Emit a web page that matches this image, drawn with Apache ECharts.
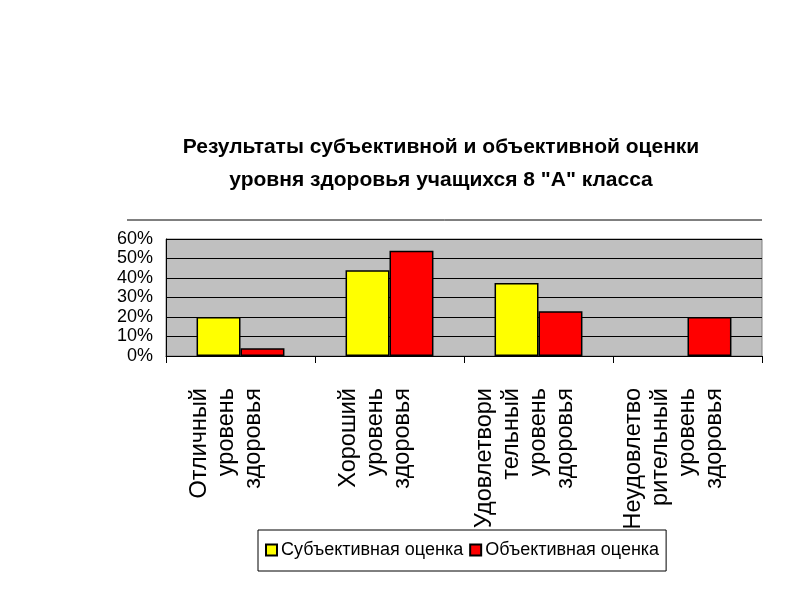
<!DOCTYPE html>
<html>
<head>
<meta charset="utf-8">
<script src="https://cdn.jsdelivr.net/npm/echarts@6/dist/echarts.min.js"></script>
<style>
  html, body { margin: 0; padding: 0; background: #fff; }
  #chart { width: 800px; height: 600px; }
</style>
</head>
<body>
<div id="chart"></div>
<script>
const categories = [
  'Отличный\nуровень\nздоровья',
  'Хороший\nуровень\nздоровья',
  'Удовлетвори\nтельный\nуровень\nздоровья',
  'Неудовлетво\nрительный\nуровень\nздоровья',
]
const subjective = [20, 44, 37.5, 0]
const objective = [4, 54, 23, 20]
const seriesNames = ['Субъективная оценка', 'Объективная оценка']

const narrow = '"Liberation Sans Narrow", "Arial Narrow", "Liberation Sans", sans-serif'
const regular = '"Liberation Sans", Arial, sans-serif'

// a zero share is not drawn as a bar
const toBars = arr => arr.map(v => (v === 0 ? '-' : v))

const chart = echarts.init(document.getElementById('chart'))

const option = {
  animation: false,
  backgroundColor: '#fff',
  title: {
    text: 'Результаты субъективной и объективной оценки\nуровня здоровья учащихся 8 "А" класса',
    left: 436,
    top: 126,
    textAlign: 'center',
    textStyle: {
      fontFamily: narrow,
      fontSize: 21,
      fontWeight: 'bold',
      lineHeight: 33,
      color: '#000',
    },
  },
  graphic: [
    {
      type: 'line',
      shape: { x1: 127, y1: 220, x2: 762, y2: 220 },
      style: { stroke: '#000', lineWidth: 1 },
    },
  ],
  legend: {
    data: seriesNames,
    left: 258,
    top: 530,
    orient: 'horizontal',
    padding: [11, 7, 12, 7],
    itemGap: 6,
    itemWidth: 11,
    itemHeight: 11,
    icon: 'rect',
    borderColor: '#000',
    borderWidth: 1,
    textStyle: { fontFamily: narrow, fontSize: 18, color: '#000', padding: [0, 0, 0, -1] },
  },
  grid: {
    left: 166,
    right: 38,
    top: 239,
    bottom: 244,
    show: true,
    backgroundColor: '#c0c0c0',
    borderColor: '#808080',
    borderWidth: 1,
  },
  xAxis: {
    type: 'category',
    data: categories,
    axisLine: { lineStyle: { color: '#000', width: 1 } },
    axisTick: { show: true, length: 7, lineStyle: { color: '#000' } },
    axisLabel: {
      rotate: 90,
      interval: 0,
      margin: 32,
      fontFamily: regular,
      fontSize: 23.5,
      lineHeight: 27,
      color: '#000',
      // trailing blank line nudges the rotated block left of the tick centre
      formatter: v => v + '\n ',
    },
  },
  yAxis: {
    type: 'value',
    min: 0,
    max: 60,
    interval: 10,
    axisLine: { show: true, lineStyle: { color: '#000' } },
    axisTick: { show: false },
    splitLine: { lineStyle: { color: '#000', width: 1 } },
    axisLabel: {
      formatter: '{value}%',
      fontFamily: narrow,
      fontSize: 18,
      color: '#000',
      margin: 13,
    },
  },
  series: [
    {
      name: seriesNames[0],
      type: 'bar',
      data: toBars(subjective),
      barGap: '0%',
      barCategoryGap: '41%',
      itemStyle: { color: '#ffff00', borderColor: '#000', borderWidth: 1.5 },
    },
    {
      name: seriesNames[1],
      type: 'bar',
      data: toBars(objective),
      itemStyle: { color: '#ff0000', borderColor: '#000', borderWidth: 1.5 },
    },
  ],
}

chart.setOption(option)
</script>
</body>
</html>
